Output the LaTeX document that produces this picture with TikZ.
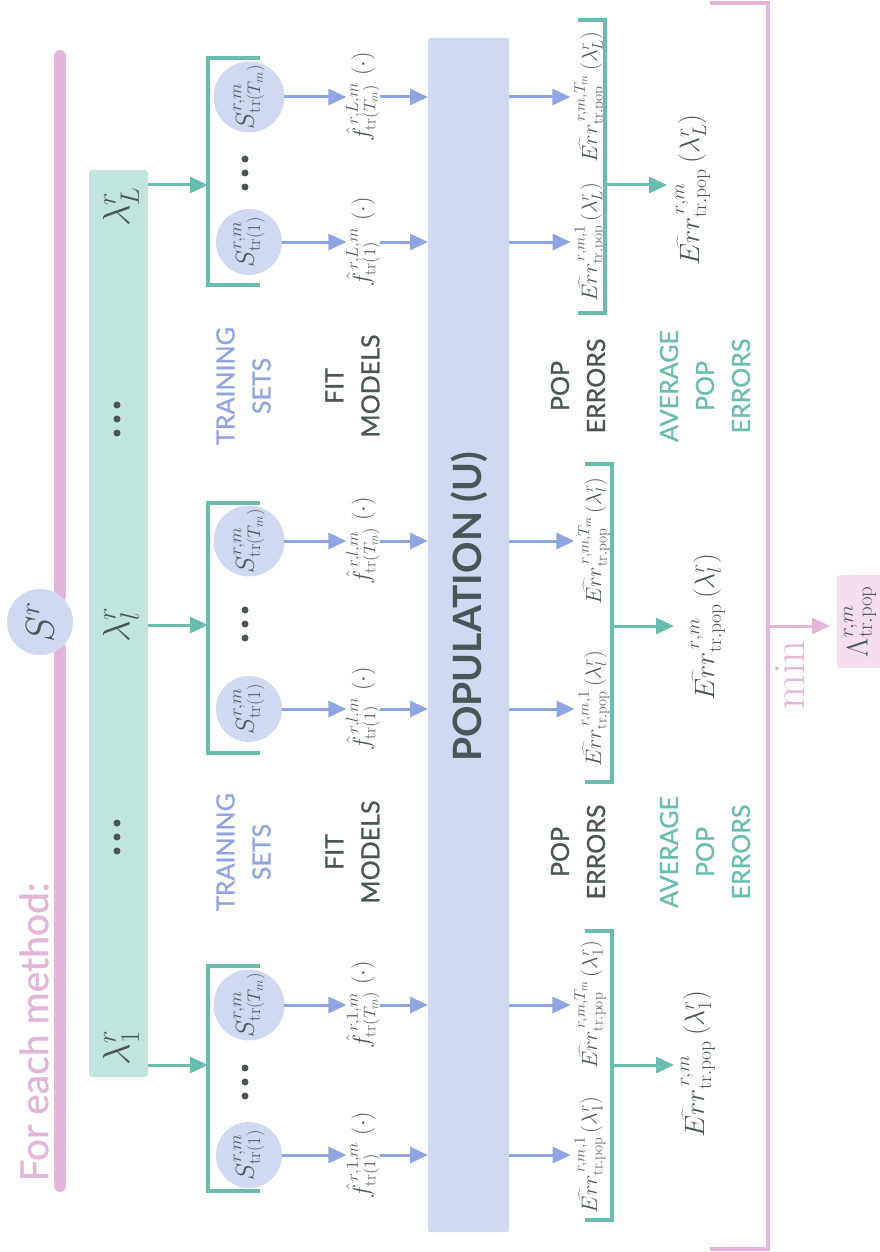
\RequirePackage{fix-cm}
\documentclass[tikz,border=0pt]{standalone}
\usepackage{fontspec}
\usetikzlibrary{arrows.meta}
\newfontfamily\lato[FakeBold=0.9]{Lato}
\newfontfamily\latob{Lato}

\definecolor{railpink}{HTML}{E3B5D9}
\definecolor{boxpink}{HTML}{F4DEF0}
\definecolor{bandgreen}{HTML}{C1E4DE}
\definecolor{linegreen}{HTML}{68BDAE}
\definecolor{bluefill}{HTML}{D0D9F1}
\definecolor{bluestroke}{HTML}{8FA4E2}
\definecolor{ink}{HTML}{4A5656}

\begin{document}
\begin{tikzpicture}[x=1pt,y=-1pt,
  every node/.style={inner sep=0pt, outer sep=0pt},
  rot/.style={rotate=90},
  mathlbl/.style={rot, text=ink, font=\fontsize{#1}{#1}\selectfont},
  setcirc/.style={circle, fill=bluefill, minimum size=66pt, rot, text=ink,
                  font=\fontsize{26}{26}\selectfont},
  caption/.style={rot, align=center, text=#1, font=\lato\fontsize{25}{36}\selectfont},
  rail/.style={draw=railpink, line width=12pt, line cap=round},
  pinkline/.style={draw=railpink, line width=3.5pt},
  gline/.style={draw=linegreen, line width=3.5pt},
  tip/.style={-{Triangle[length=18pt,width=16pt]}},
  barrow/.style={tip, draw=bluestroke, fill=bluestroke, line width=3pt},
  garrow/.style={tip, draw=linegreen, fill=linegreen, line width=3pt},
  parrow/.style={tip, draw=railpink, fill=railpink, line width=3pt},
]
\useasboundingbox (0,0) rectangle (880,1252);

% ---- left rail with the sample S^r ----
\coordinate (railtop) at (60,56);
\coordinate (railA) at (60,596);
\coordinate (railB) at (60,648);
\coordinate (railbot) at (60,1186);
\draw[rail] (railtop) -- (railA);
\draw[rail] (railB) -- (railbot);
\node[circle, fill=bluefill, minimum size=66pt, rot, text=ink,
      font=\fontsize{40}{40}\selectfont] (Sr) at (40,622) {$S^r$};
\node[rot, text=railpink, font=\lato\fontsize{39}{39}\selectfont] (title) at (34,1032) {For each method:};

% ---- tuning grid band ----
\node[fill=bandgreen, minimum width=59pt, minimum height=907pt, rounded corners=3pt] (band) at (118.5,623.5) {};
\foreach \yy in {419,837}
  \foreach \k in {-1,0,1}
    \fill[ink] (117,{\yy+14*\k}) circle (3.5);

% ---- population ----
\node[fill=bluefill, minimum width=81pt, minimum height=1194pt, rounded corners=2pt] (pop) at (468.5,635) {};
\node[rot, text=ink, font=\latob\bfseries\fontsize{39}{39}\selectfont] (poptext) at (469,607) {POPULATION (U)};

% ---- column captions ----
\foreach \yy in {386,852} {
  \node[caption=bluestroke] at (243.5,\yy) {TRAINING\\SETS};
  \node[caption=ink] at (352.5,\yy) {FIT\\MODELS};
  \node[caption=ink] at (578,\yy) {POP\\ERRORS};
  \node[caption=linegreen] at (705,\yy) {AVERAGE\\POP\\ERRORS};
}

% ---- one block per tuning value ----
\foreach \id/\yT/\yo/\yd/\bt/\bb/\ya/\yl/\ex/\etick/\ebx/\ebt/\ebb/\yav/\ax/\ay in {
  L/97/242/173/58/285/185/207/590/578/605/20/313/185/693/190,
  l/541/709/624/503/753/625/625/594/585/612/464/782/626/708/627,
  1/1005/1155/1082/966/1191/1065/1048/590/585/612/931/1220/1065/698/1064}
{
  % tuning value
  \node[mathlbl=38] (lam-\id) at (121,\yl) {$\lambda^r_{\id}$};
  % training sets
  \node[setcirc] (sT-\id) at (249,\yT) {$S^{r,m}_{\mathrm{tr}(T_m)}$};
  \node[setcirc] (s1-\id) at (249,\yo) {$S^{r,m}_{\mathrm{tr}(1)}$};
  \foreach \k in {-1,0,1}
    \fill[ink] (245,{\yd+14*\k}) circle (3.5);
  % bracket grouping the training sets
  \coordinate (lbA-\id) at (260,\bt);
  \coordinate (lbB-\id) at (208,\bt);
  \coordinate (lbC-\id) at (208,\bb);
  \coordinate (lbD-\id) at (260,\bb);
  \draw[gline] (lbA-\id) -- (lbB-\id) -- (lbC-\id) -- (lbD-\id);
  \coordinate (lin-\id) at (208,\ya);
  \draw[garrow] (lin-\id -| band.east) -- (lin-\id);
  % fitted models
  \node[mathlbl=24] (fT-\id) at (363,\yT) {$\hat f^{\,r,\id,m}_{\mathrm{tr}(T_m)}\;(\cdot)$};
  \node[mathlbl=24] (f1-\id) at (363,\yo) {$\hat f^{\,r,\id,m}_{\mathrm{tr}(1)}\;(\cdot)$};
  \draw[barrow] (sT-\id) -- (sT-\id -| fT-\id.north);
  \draw[barrow] (s1-\id) -- (s1-\id -| f1-\id.north);
  \draw[barrow] (fT-\id) -- (fT-\id -| pop.west);
  \draw[barrow] (f1-\id) -- (f1-\id -| pop.west);
  % population errors
  \node[mathlbl=22] (eT-\id) at (\ex,\yT) {$\widehat{Err}^{\,r,m,T_m}_{\mathrm{tr.pop}}\,(\lambda^r_{\id})$};
  \node[mathlbl=22] (e1-\id) at (\ex,\yo) {$\widehat{Err}^{\,r,m,1}_{\mathrm{tr.pop}}\,(\lambda^r_{\id})$};
  \draw[barrow, shorten >=4pt] (pop.east |- eT-\id) -- (eT-\id);
  \draw[barrow, shorten >=4pt] (pop.east |- e1-\id) -- (e1-\id);
  % bracket grouping the errors
  \coordinate (rbA-\id) at (\etick,\ebt);
  \coordinate (rbB-\id) at (\ebx,\ebt);
  \coordinate (rbC-\id) at (\ebx,\ebb);
  \coordinate (rbD-\id) at (\etick,\ebb);
  \draw[gline] (rbA-\id) -- (rbB-\id) -- (rbC-\id) -- (rbD-\id);
  % averaged error
  \node[mathlbl=28] (avg-\id) at (\ax,\ay) {$\widehat{Err}^{\,r,m}_{\mathrm{tr.pop}}\,(\lambda^r_{\id})$};
  \coordinate (rout-\id) at (\ebx,\yav);
  \coordinate (avgin-\id) at ({\ebx+62},\yav);
  \draw[garrow] (rout-\id) -- (avgin-\id);
}

% ---- minimisation over the grid ----
\coordinate (pbA) at (710,3);
\coordinate (pbB) at (768,3);
\coordinate (pbC) at (768,1249);
\coordinate (pbD) at (710,1249);
\draw[pinkline] (pbA) -- (pbB) -- (pbC) -- (pbD);
\node[rot, fill=boxpink, minimum width=93pt, minimum height=46pt, rounded corners=3pt,
      text=ink, font=\fontsize{30}{30}\selectfont] (Lam) at (860,621.5) {$\Lambda^{r,m}_{\mathrm{tr.pop}}$};
\coordinate (minout) at (768,626);
\draw[parrow, shorten >=7pt] (minout) -- (minout -| Lam.north);
\node[rot, text=railpink, font=\fontsize{45}{45}\selectfont] (minlbl) at (790,675) {$\mathrm{min}$};
\end{tikzpicture}
\end{document}
